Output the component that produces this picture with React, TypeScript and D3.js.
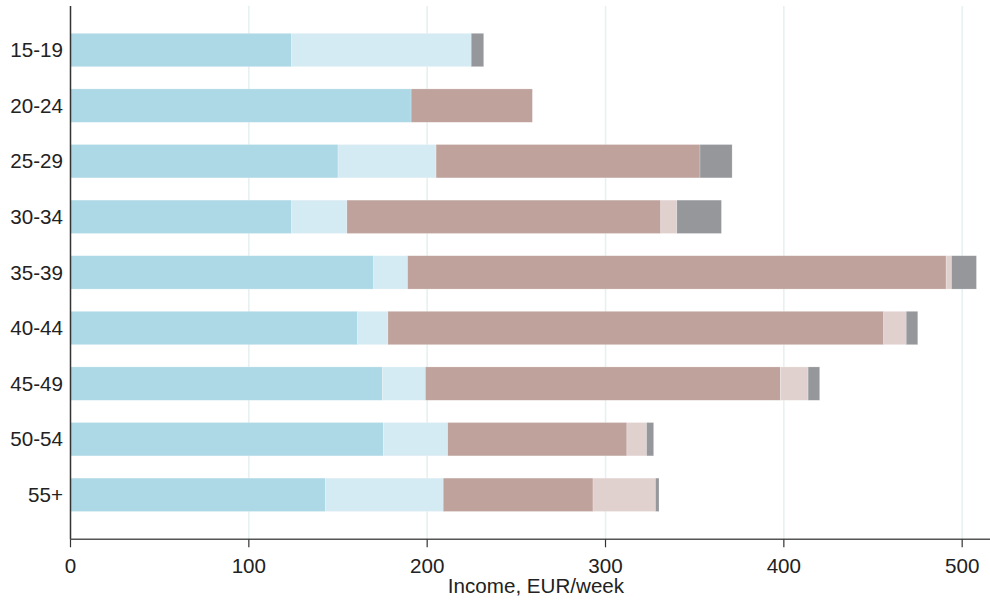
import React from "react";
import * as d3 from "d3";

const categories = ["15-19", "20-24", "25-29", "30-34", "35-39", "40-44", "45-49", "50-54", "55+"];
const seriesA = [124, 191, 150, 124, 170, 161, 175, 175.5, 143];
const seriesB = [100.7, 0, 55, 31, 19, 17, 24, 36, 66];
const seriesC = [0, 68, 148, 176, 302, 278, 199, 100.5, 84];
const seriesD = [0, 0, 0, 9, 3, 12.6, 15.6, 11, 35];
const seriesE = [7, 0, 18, 25, 14, 6.5, 6.5, 4, 2];
const xTicks = [0, 100, 200, 300, 400, 500];
const xLabel = "Income, EUR/week";

const colors = ["#add8e6", "#d5ebf3", "#bfa29c", "#e0d1ce", "#96979b"];

export default function App() {
  const W = 990, H = 601;
  const x = d3.scaleLinear().domain([0, 515.6]).range([70.5, 990]);
  const y = d3.scaleBand<string>().domain(categories).range([22.2, 522.6]).paddingInner(0.4).paddingOuter(0.2);
  const plotTop = 6, plotBottom = 539.3;

  const rows = categories.map((c, i) => ({
    cat: c,
    a: seriesA[i], b: seriesB[i], c: seriesC[i], d: seriesD[i], e: seriesE[i],
  }));
  const keys = ["a", "b", "c", "d", "e"];
  const stacked = d3.stack<any>().keys(keys)(rows);
  const font = "'Liberation Sans', Arial, Helvetica, sans-serif";
  const fs = 20.6;

  return (
    <svg width={W} height={H} style={{ position: "fixed", left: 0, top: 0, background: "#fff" }}>
      {xTicks.filter(t => t > 0).map(t => (
        <line key={"g" + t} x1={x(t)} x2={x(t)} y1={plotTop} y2={plotBottom} stroke="#e6f0f0" strokeWidth={1.5} />
      ))}
      {stacked.map((s, si) => (
        <g key={si} fill={colors[si]}>
          {s.map((d, i) => d[1] - d[0] > 0 ? (
            <rect key={i} x={x(d[0])} y={y(categories[i])} width={x(d[1]) - x(d[0])} height={y.bandwidth()}
              stroke="#ffffff" strokeOpacity={0.35} strokeWidth={0.6} />
          ) : null)}
        </g>
      ))}
      <line x1={70.5} x2={70.5} y1={plotTop} y2={plotBottom} stroke="#333" strokeWidth={1.5} />
      <line x1={70.5} x2={990} y1={plotBottom} y2={plotBottom} stroke="#555" strokeWidth={1.5} />
      {xTicks.map(t => (
        <g key={"t" + t}>
          <line x1={x(t)} x2={x(t)} y1={plotBottom} y2={plotBottom + 8} stroke="#333" strokeWidth={1.2} />
          <text x={x(t)} y={572.5} textAnchor="middle" fontFamily={font} fontSize={fs} fill="#222">{t}</text>
        </g>
      ))}
      {categories.map(c => (
        <text key={c} x={63} y={(y(c) as number) + y.bandwidth() / 2} dy="0.35em" textAnchor="end"
          fontFamily={font} fontSize={fs} fill="#222">{c}</text>
      ))}
      <text x={536} y={593.3} textAnchor="middle" fontFamily={font} fontSize={fs} fill="#222">{xLabel}</text>
    </svg>
  );
}
